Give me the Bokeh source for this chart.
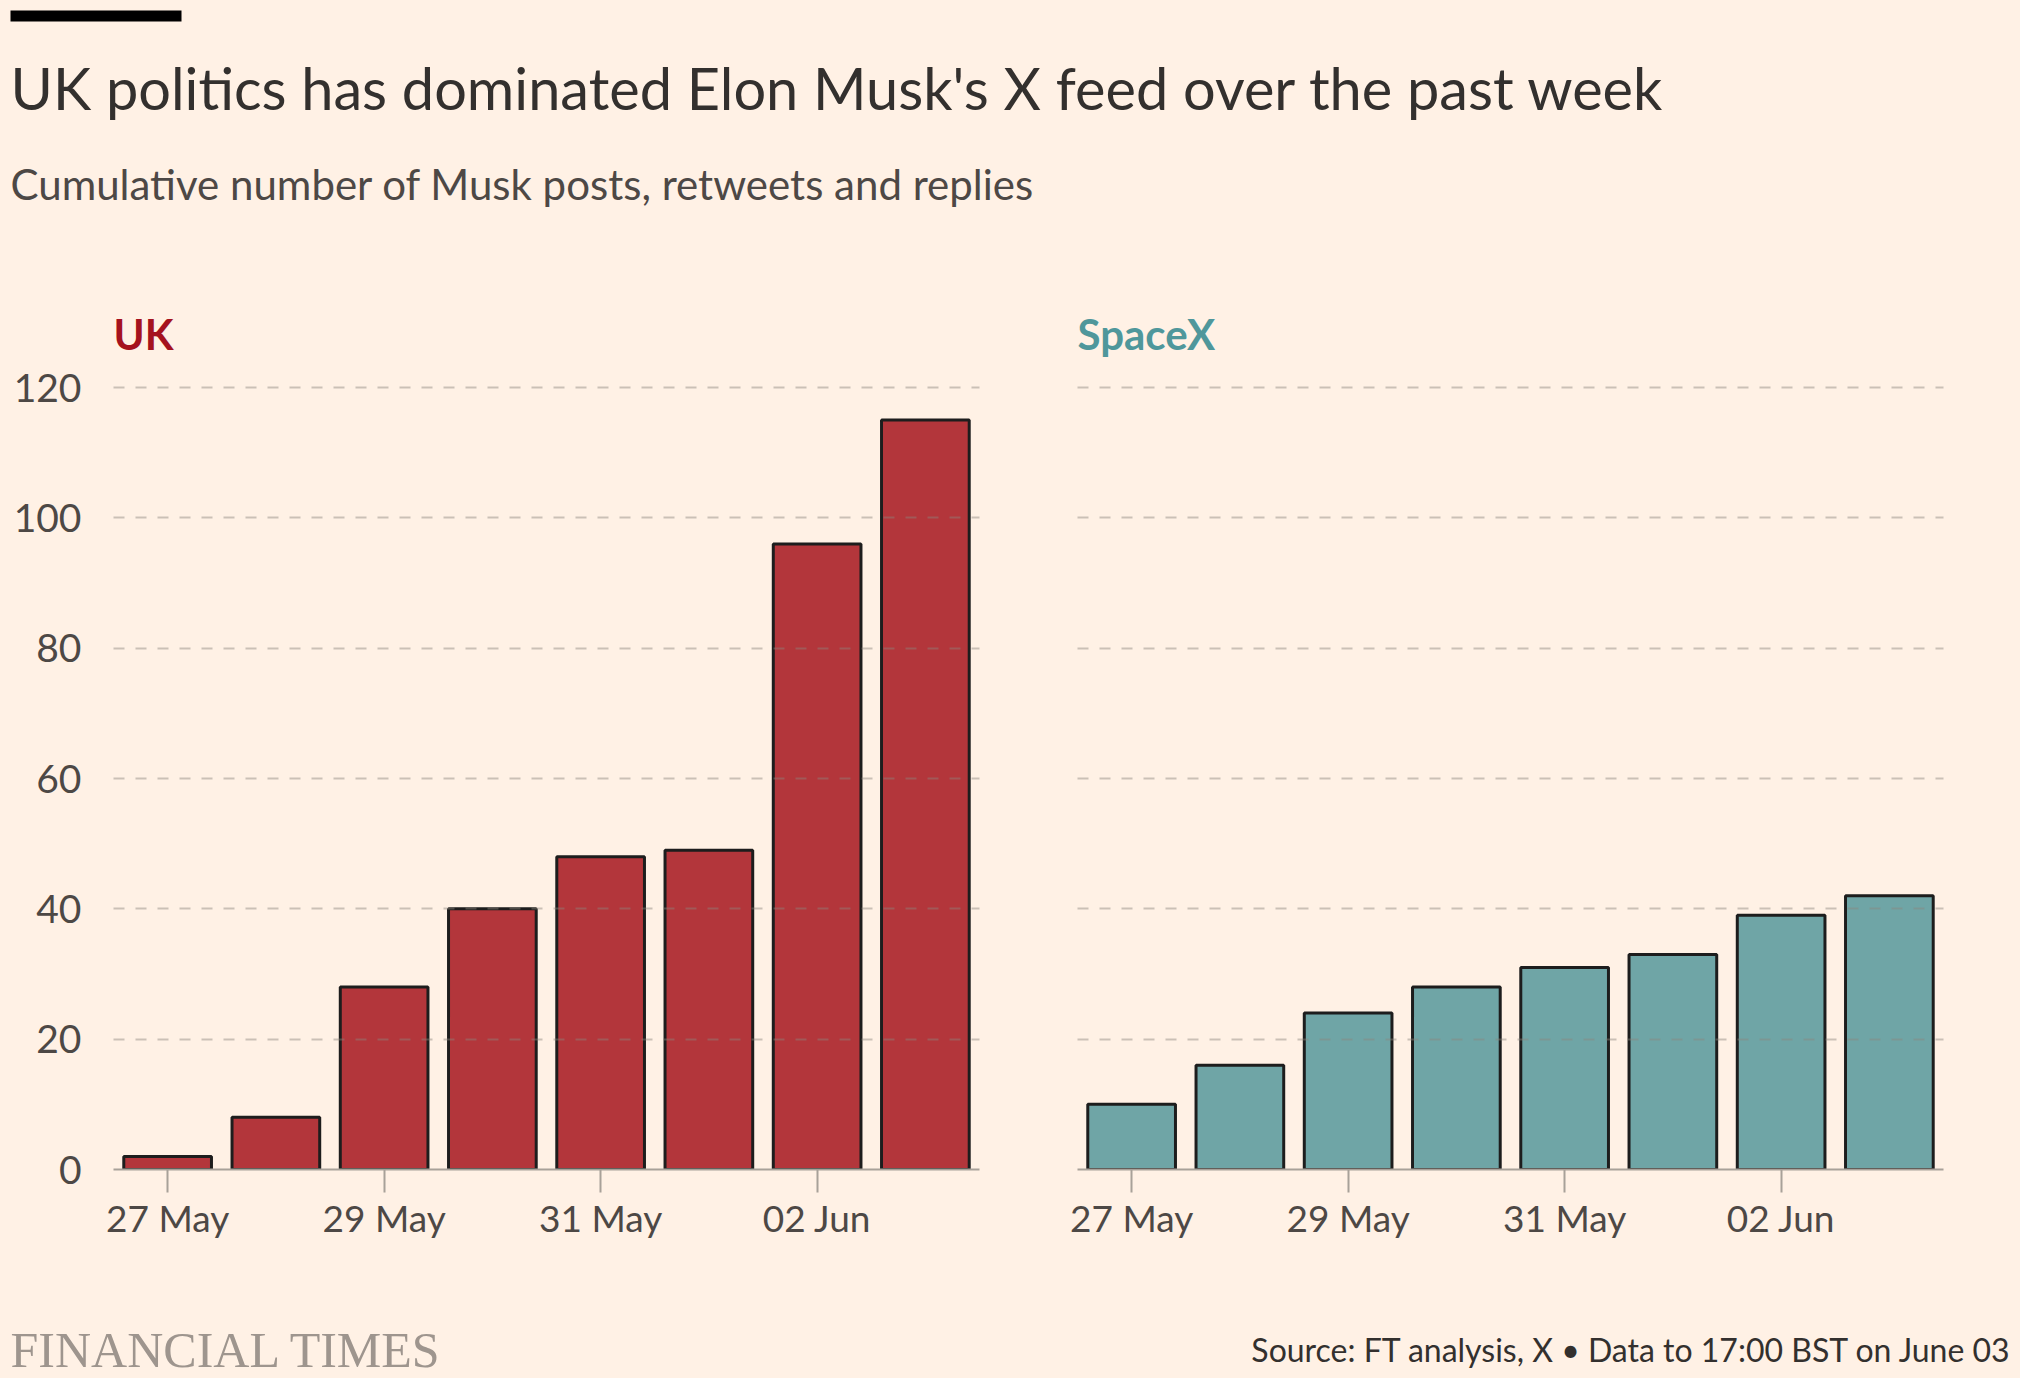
import pandas as pd
from bokeh.plotting import figure
from bokeh.layouts import column, row
from bokeh.models import Range1d, FixedTicker, DatetimeTickFormatter, Label, BoxAnnotation
from bokeh.embed import file_html
from bokeh.resources import INLINE

# ---- data ----
dates = ["2024-05-27", "2024-05-28", "2024-05-29", "2024-05-30",
         "2024-05-31", "2024-06-01", "2024-06-02", "2024-06-03"]
uk_counts = [2, 8, 28, 40, 48, 49, 96, 115]
spacex_counts = [10, 16, 24, 28, 31, 33, 39, 42]
tick_dates = ["2024-05-27", "2024-05-29", "2024-05-31", "2024-06-02"]
y_ticks = [0, 20, 40, 60, 80, 100, 120]

title_text = "UK politics has dominated Elon Musk's X feed over the past week"
subtitle_text = "Cumulative number of Musk posts, retweets and replies"
source_text = "Source: FT analysis, X \u2022 Data to 17:00 BST on June 03"
brand_text = "FINANCIAL TIMES"

BG = "#fff1e5"
FONT = "Lato"
TEXT = "#33302e"
LABEL = "#4d4845"
DAY = 24 * 3600 * 1000

x_ms = [pd.Timestamp(d).value // 10**6 for d in dates]
tick_ms = [pd.Timestamp(d).value // 10**6 for d in tick_dates]


def panel(name, values, fill, name_color, width, left, right, show_y):
    p = figure(width=width, height=1000, x_axis_type="datetime",
               x_range=Range1d(x_ms[0] - 0.5 * DAY, x_ms[-1] + 0.5 * DAY),
               y_range=Range1d(0, 122),
               output_backend="svg", toolbar_location=None,
               min_border_left=left, min_border_right=right,
               min_border_top=83, min_border_bottom=121,
               styles={"background-color": BG})
    p.background_fill_color = BG
    p.border_fill_color = BG
    p.outline_line_color = None
    p.vbar(x=x_ms, top=values, width=0.81 * DAY, bottom=0,
           fill_color=fill, line_color="#1d1d1d", line_width=3)

    p.title.text = name
    p.title.text_font = FONT
    p.title.text_font_size = "42px"
    p.title.text_font_style = "bold"
    p.title.text_color = name_color
    p.title.align = "left"
    p.title.offset = 0
    p.title.standoff = 32

    xa = p.xaxis[0]
    xa.ticker = FixedTicker(ticks=tick_ms)
    xa.formatter = DatetimeTickFormatter(days="%d %b", months="%d %b",
                                         hours="%d %b", years="%d %b")
    xa.axis_line_color = "#a8a199"
    xa.axis_line_width = 2
    xa.major_tick_line_color = "#a8a199"
    xa.major_tick_line_width = 2
    xa.major_tick_out = 23
    xa.major_tick_in = 0
    xa.minor_tick_line_color = None
    xa.major_label_text_font = FONT
    xa.major_label_text_font_size = "37px"
    xa.major_label_text_color = LABEL
    xa.major_label_standoff = 2

    ya = p.yaxis[0]
    ya.ticker = FixedTicker(ticks=y_ticks)
    ya.axis_line_color = None
    ya.major_tick_line_color = None
    ya.minor_tick_line_color = None
    ya.major_label_text_font = FONT
    ya.major_label_text_font_size = "39px"
    ya.major_label_text_color = LABEL
    ya.major_label_standoff = 26
    if not show_y:
        ya.visible = False

    p.xgrid.grid_line_color = None
    p.ygrid.grid_line_color = "#8c847c"
    p.ygrid.grid_line_alpha = 0.45
    p.ygrid.grid_line_width = 2
    p.ygrid.grid_line_dash = "11 11"
    p.ygrid.level = "overlay"
    return p


p1 = panel("UK", uk_counts, "#b3363b", "#a5121e", 1040, 113, 61, True)
p2 = panel("SpaceX", spacex_counts, "#6fa5a6", "#4f979b", 980, 37, 77, False)

# header
h = figure(width=2020, height=290, x_range=Range1d(0, 2020), y_range=Range1d(0, 290),
           x_axis_type=None, y_axis_type=None, output_backend="svg",
           toolbar_location=None, min_border=0, styles={"background-color": BG})
h.background_fill_color = BG
h.border_fill_color = BG
h.outline_line_color = None
h.add_layout(BoxAnnotation(left=10, right=181, bottom=269, top=280,
                           left_units="screen", right_units="screen",
                           top_units="screen", bottom_units="screen",
                           fill_color="#000000", fill_alpha=1, line_color=None))
h.add_layout(Label(x=10, y=203, x_units="screen", y_units="screen", text=title_text,
                   text_font=FONT, text_font_size="57.7px", text_color=TEXT,
                   text_baseline="alphabetic", text_align="left"))
h.add_layout(Label(x=10, y=107, x_units="screen", y_units="screen", text=subtitle_text,
                   text_font=FONT, text_font_size="42px", text_color=LABEL,
                   text_baseline="alphabetic", text_align="left"))

# footer
f = figure(width=2020, height=88, x_range=Range1d(0, 2020), y_range=Range1d(0, 88),
           x_axis_type=None, y_axis_type=None, output_backend="svg",
           toolbar_location=None, min_border=0, styles={"background-color": BG})
f.background_fill_color = BG
f.border_fill_color = BG
f.outline_line_color = None
f.add_layout(Label(x=10, y=29, x_units="screen", y_units="screen", text=brand_text,
                   text_font="Liberation Serif", text_font_size="50px", text_color="#9e958e",
                   text_baseline="alphabetic", text_align="left"))
f.add_layout(Label(x=2012, y=29, x_units="screen", y_units="screen", text=source_text,
                   text_font=FONT, text_font_size="32px", text_color=TEXT,
                   text_baseline="alphabetic", text_align="right"))

layout = column(h, row(p1, p2, styles={"background-color": BG}), f,
                styles={"background-color": BG})
open("out.html", "w").write(file_html(layout, INLINE))
